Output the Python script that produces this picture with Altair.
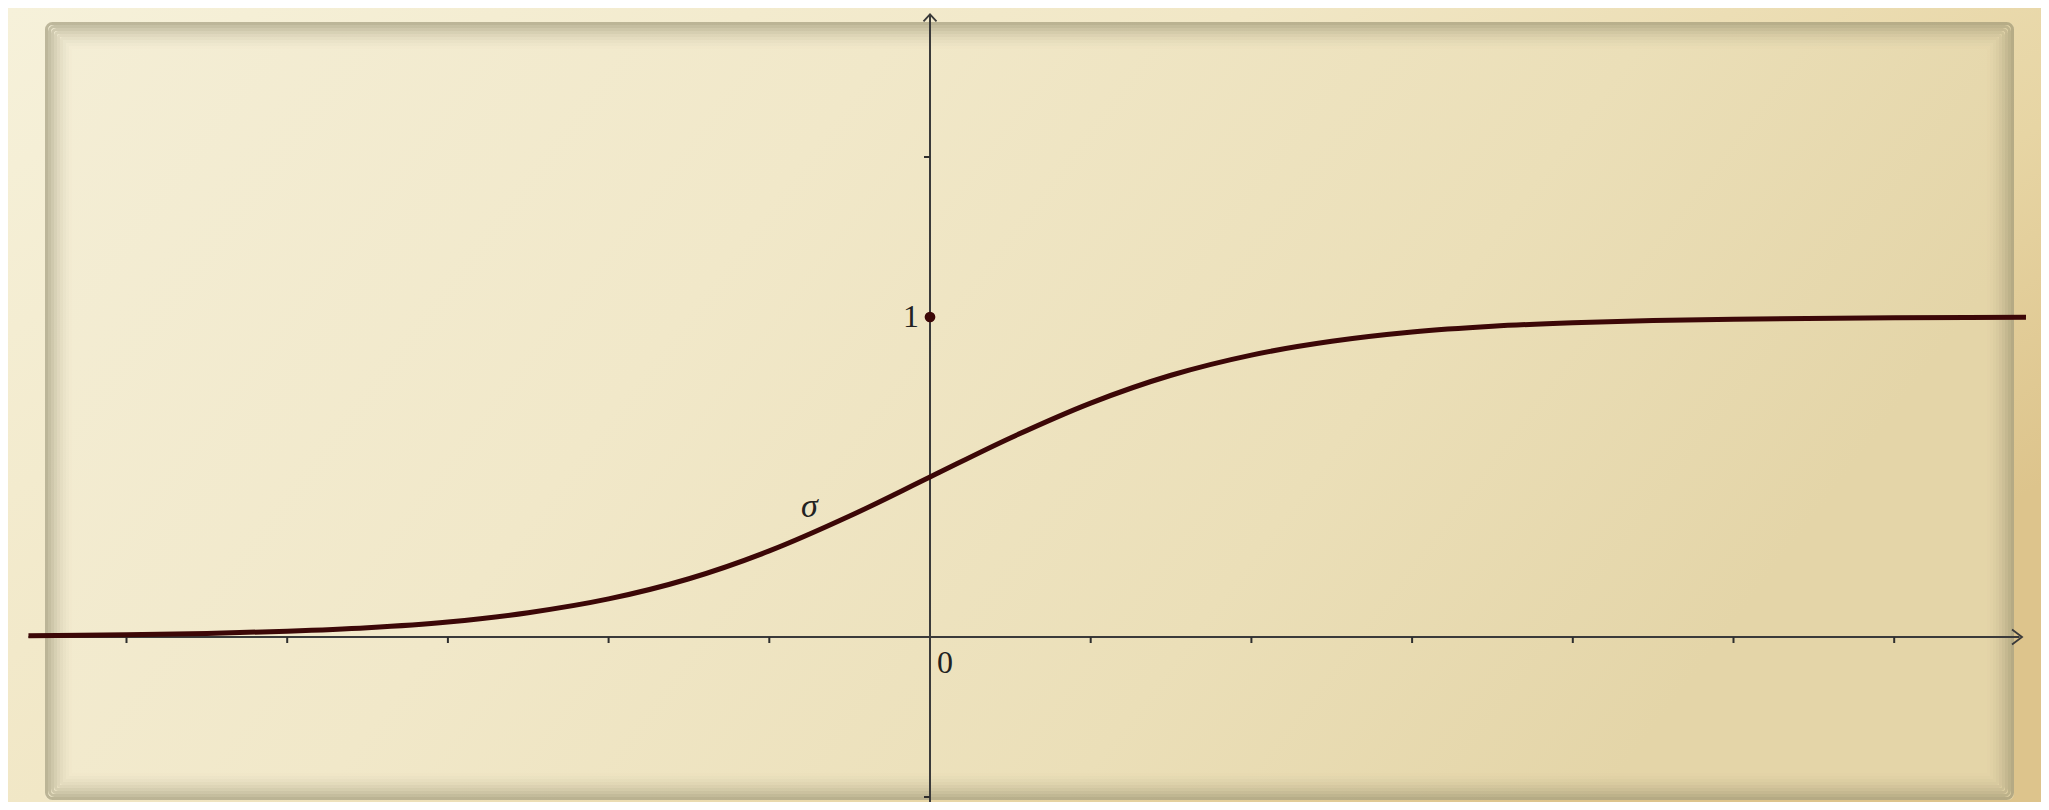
import altair as alt
import pandas as pd

# ---------------- data ----------------
curve_x = [-5.61, -5, -4.5, -4, -3.5, -3, -2.5, -2, -1.5, -1, -0.5, 0,
           0.5, 1, 1.5, 2, 2.5, 3, 3.5, 4, 4.5, 5, 6, 6.82]
curve_y = [0.004, 0.007, 0.011, 0.018, 0.029, 0.047, 0.076, 0.119, 0.182,
           0.269, 0.378, 0.5, 0.622, 0.731, 0.818, 0.881, 0.924, 0.953,
           0.971, 0.982, 0.989, 0.993, 0.998, 0.999]

x_ticks = [-5, -4, -3, -2, -1, 1, 2, 3, 4, 5, 6]
y_ticks = [-0.5, 1.5]
x_axis_extent = [-5.61, 6.78]
y_axis_extent = [-0.56, 1.944]

x_label_text = ["0"]
y_label_text = ["1"]
y_label_value = [1]
curve_name = ["σ"]
curve_name_x = [-0.75]
curve_name_y = [0.375]

# ---------------- layout ----------------
W, H = 2033, 794
X0_PX, Y0_PX = 922, 629      # origin inside the chart
UX, UY = 160.7, 320.0        # pixels per unit
XMIN, XMAX = -X0_PX / UX, (W - X0_PX) / UX
YMIN, YMAX = -(H - Y0_PX) / UY, Y0_PX / UY

xs = alt.Scale(domain=[XMIN, XMAX], nice=False, zero=False)
ys = alt.Scale(domain=[YMIN, YMAX], nice=False, zero=False)


def X(f):
    return alt.X(f, type="quantitative", scale=xs, axis=None)


def Y(f):
    return alt.Y(f, type="quantitative", scale=ys, axis=None)


one = pd.DataFrame({"k": [0]})

AXIS_COLOR = "#3a3a3a"
CURVE_COLOR = "#3c0707"
FONT = "Liberation Serif"

# ---------------- decoration: parchment ----------------
outer = alt.Chart(one).mark_rect(
    fill=alt.LinearGradient(
        gradient="linear", x1=0, y1=0, x2=1, y2=0.6,
        stops=[alt.GradientStop(color="#f6f1da", offset=0),
               alt.GradientStop(color="#f1e7c6", offset=0.45),
               alt.GradientStop(color="#e7d5a4", offset=0.8),
               alt.GradientStop(color="#ddc48c", offset=1)])
).encode(x=alt.value(0), x2=alt.value(W), y=alt.value(0), y2=alt.value(H))

PX0, PY0, PX1, PY1 = 37, 14, 2006, 792
paper = alt.Chart(one).mark_rect(
    cornerRadius=6,
    fill=alt.LinearGradient(
        gradient="linear", x1=0, y1=0, x2=1, y2=0.3,
        stops=[alt.GradientStop(color="#f4eed6", offset=0),
               alt.GradientStop(color="#f1e8c9", offset=0.4),
               alt.GradientStop(color="#ebdfb8", offset=0.75),
               alt.GradientStop(color="#e4d5a8", offset=1)])
).encode(x=alt.value(PX0), x2=alt.value(PX1), y=alt.value(PY0), y2=alt.value(PY1))

rings = []
N = 9
for i in range(N):
    inset = 1.5 + 3 * i
    op = 0.5 * (1 - i / N) ** 1.7
    rings.append(
        alt.Chart(one).mark_rect(
            fillOpacity=0, stroke="#857f60", strokeWidth=3,
            strokeOpacity=op, cornerRadius=max(6 - i, 0)
        ).encode(x=alt.value(PX0 + inset), x2=alt.value(PX1 - inset),
                 y=alt.value(PY0 + inset), y2=alt.value(PY1 - inset))
    )

# ---------------- axes ----------------
xaxis_df = pd.DataFrame({"x0": [x_axis_extent[0]], "x1": [x_axis_extent[1]], "y": [0]})
yaxis_df = pd.DataFrame({"y0": [y_axis_extent[0]], "y1": [y_axis_extent[1]], "x": [0]})

x_axis = alt.Chart(xaxis_df).mark_rule(color=AXIS_COLOR, strokeWidth=2).encode(
    x=X("x0"), x2="x1", y=Y("y"))
y_axis = alt.Chart(yaxis_df).mark_rule(color=AXIS_COLOR, strokeWidth=2).encode(
    y=Y("y0"), y2="y1", x=X("x"))

x_arrow = alt.Chart(pd.DataFrame({"x": [x_axis_extent[1]], "y": [0]})).mark_point(
    shape="M -1 -1 L 0.33 0 L -1 1", size=225, filled=False,
    stroke=AXIS_COLOR, strokeWidth=1.8, opacity=1
).encode(x=X("x"), y=Y("y"))

y_arrow = alt.Chart(pd.DataFrame({"x": [0], "y": [y_axis_extent[1]]})).mark_point(
    shape="M -1 1 L 0 -0.1 L 1 1", size=169, filled=False,
    stroke=AXIS_COLOR, strokeWidth=1.8, opacity=1
).encode(x=X("x"), y=Y("y"))

xt = alt.Chart(pd.DataFrame({"x": x_ticks, "y": [0] * len(x_ticks)})).mark_tick(
    orient="vertical", size=6, thickness=2, yOffset=3, color="#2e2e2e", opacity=1
).encode(x=X("x"), y=Y("y"))

yt = alt.Chart(pd.DataFrame({"y": y_ticks, "x": [0] * len(y_ticks)})).mark_tick(
    orient="horizontal", size=6, thickness=2, xOffset=-3, color="#2e2e2e", opacity=1
).encode(x=X("x"), y=Y("y"))

# ---------------- curve ----------------
curve = alt.Chart(pd.DataFrame({"x": curve_x, "y": curve_y})).mark_line(
    color=CURVE_COLOR, strokeWidth=5, interpolate="monotone", strokeCap="butt"
).encode(x=X("x"), y=Y("y"), order="x:Q")

dot = alt.Chart(pd.DataFrame({"x": [0], "y": y_label_value})).mark_circle(
    size=115, color=CURVE_COLOR, opacity=1
).encode(x=X("x"), y=Y("y"))

# ---------------- labels ----------------
zero_lbl = alt.Chart(pd.DataFrame({"x": [0], "y": [0], "t": x_label_text})).mark_text(
    font=FONT, fontSize=32, color="#222", align="left", baseline="alphabetic",
    dx=7, dy=36
).encode(x=X("x"), y=Y("y"), text="t:N")

one_lbl = alt.Chart(pd.DataFrame({"x": [0], "y": y_label_value, "t": y_label_text})).mark_text(
    font=FONT, fontSize=32, color="#222", align="right", baseline="alphabetic",
    dx=-11, dy=10
).encode(x=X("x"), y=Y("y"), text="t:N")

sigma_lbl = alt.Chart(pd.DataFrame({"x": curve_name_x, "y": curve_name_y, "t": curve_name})).mark_text(
    font=FONT, fontSize=34, fontStyle="italic", color="#222", align="center",
    baseline="alphabetic"
).encode(x=X("x"), y=Y("y"), text="t:N")

chart = alt.layer(
    outer, paper, *rings,
    x_axis, y_axis, xt, yt, x_arrow, y_arrow,
    curve, dot, zero_lbl, one_lbl, sigma_lbl
).properties(
    width=W, height=H,
    autosize=alt.AutoSizeParams(type="none"),
    padding=0,
    background="#efe3bd",
).configure_view(strokeWidth=0)

chart.save("out.html", embed_options={"renderer": "svg", "actions": False})
